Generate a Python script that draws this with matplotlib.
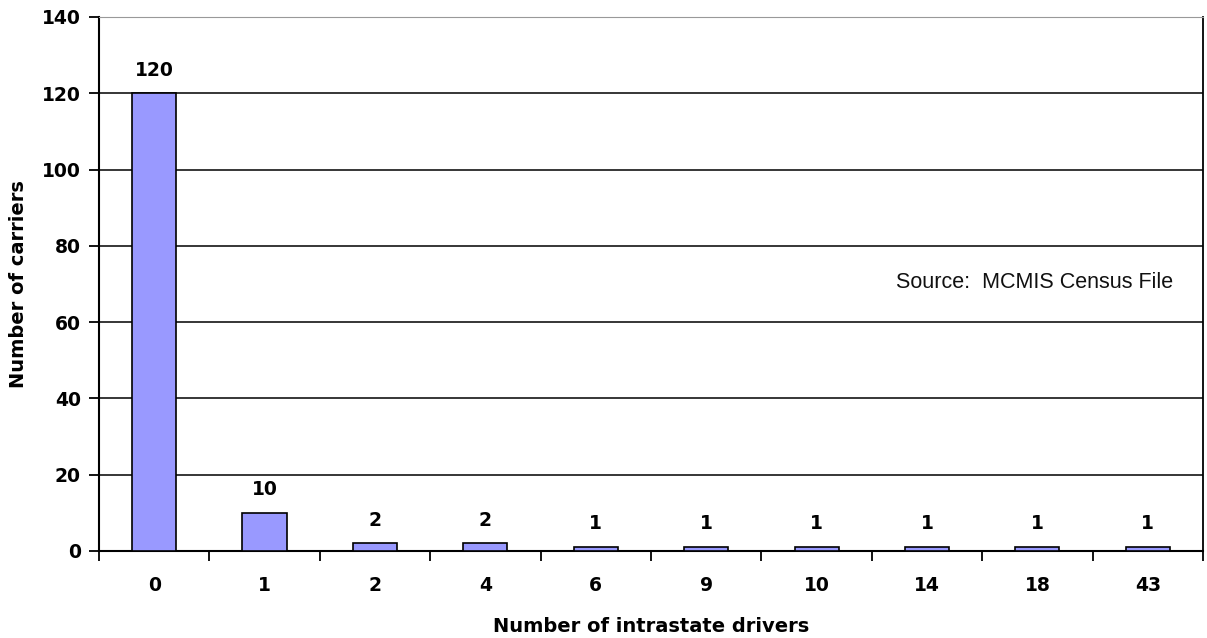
import matplotlib
matplotlib.use('Agg')
from matplotlib import pyplot as plt

# Data
drivers = ['0', '1', '2', '4', '6', '9', '10', '14', '18', '43']
carriers = [120, 10, 2, 2, 1, 1, 1, 1, 1, 1]

fig = plt.figure(figsize=(12.07, 6.38), dpi=100)
ax = fig.add_axes([0.082, 0.1364, 0.9147, 0.837])

x = range(len(drivers))
bars = ax.bar(x, carriers, width=0.4, color='#9999ff', edgecolor='black', linewidth=1.2, zorder=3)

for xi, v in zip(x, carriers):
    ax.text(xi, v + 3.6, str(v), ha='center', va='bottom', fontsize=13.5, fontweight='bold')

ax.set_xlim(-0.5, len(drivers) - 0.5)
ax.set_ylim(0, 140)
ax.set_yticks(range(0, 141, 20))
ax.yaxis.grid(True, color='black', linewidth=1.1, zorder=0)

# category ticks at boundaries, labels centred
ax.set_xticks([i - 0.5 for i in range(len(drivers) + 1)])
ax.set_xticklabels([])
ax.set_xticks(list(x), minor=True)
ax.set_xticklabels(drivers, minor=True, fontsize=13.5, fontweight='bold')
ax.tick_params(axis='x', which='minor', length=0, pad=18)
ax.tick_params(axis='x', which='major', length=7, width=1.3, direction='out')
ax.tick_params(axis='y', length=7, width=1.3, labelsize=13.5, pad=6)
for lab in ax.get_yticklabels():
    lab.set_fontweight('bold')

ax.spines['left'].set_linewidth(1.5)
ax.spines['bottom'].set_linewidth(1.5)
ax.spines['top'].set_color('#999999')
ax.spines['right'].set_linewidth(1.3)

ax.set_xlabel('Number of intrastate drivers', fontsize=14, fontweight='bold', labelpad=16)
ax.set_ylabel('Number of carriers', fontsize=14, fontweight='bold', labelpad=10)

ax.text(0.973, 70.5, 'Source:  MCMIS Census File', transform=ax.get_yaxis_transform(),
        ha='right', va='center', fontsize=15.5, family='Liberation Sans', color='#111111')

fig.savefig('out.png', dpi=100)
plt.close()
